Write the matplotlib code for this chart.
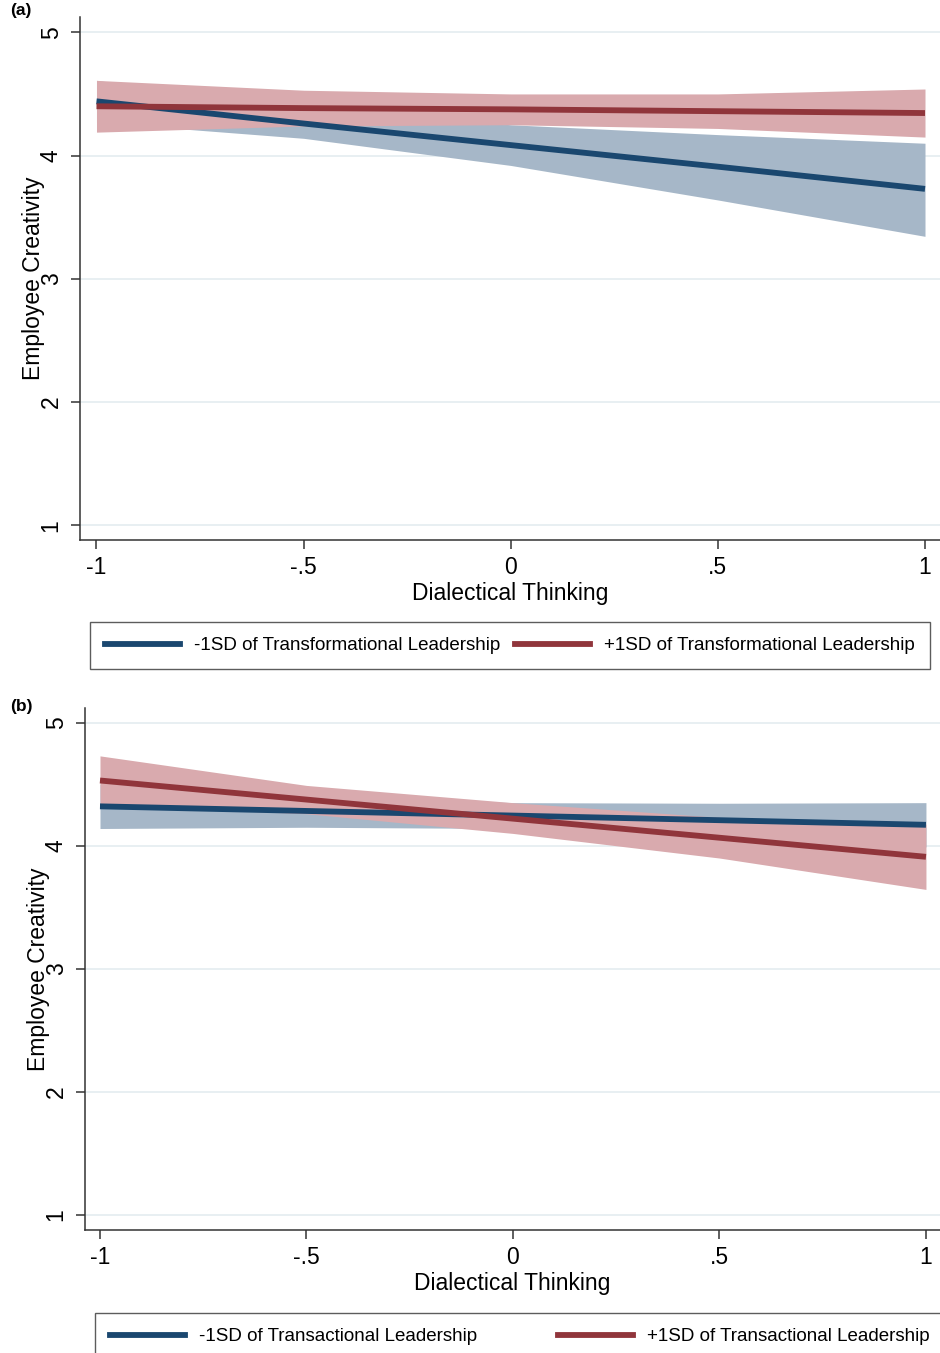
import matplotlib
matplotlib.use("Agg")
import matplotlib.pyplot as plt
from matplotlib.lines import Line2D

# dialectical thinking levels where margins were evaluated
x_vals = [-1, -0.5, 0, 0.5, 1]
x_ticks = [-1, -0.5, 0, 0.5, 1]
x_ticklabels = ["-1", "-.5", "0", ".5", "1"]
y_ticks = [1, 2, 3, 4, 5]

# (a) transformational leadership
a_low_fit = [4.44, 4.26, 4.085, 3.91, 3.73]
a_low_lo = [4.27, 4.14, 3.92, 3.64, 3.345]
a_low_hi = [4.61, 4.38, 4.25, 4.17, 4.10]
a_high_fit = [4.40, 4.385, 4.375, 4.36, 4.345]
a_high_lo = [4.19, 4.24, 4.25, 4.22, 4.15]
a_high_hi = [4.61, 4.53, 4.50, 4.50, 4.54]
a_labels = ["-1SD of Transformational Leadership", "+1SD of Transformational Leadership"]

# (b) transactional leadership
b_low_fit = [4.32, 4.2825, 4.245, 4.2075, 4.17]
b_low_lo = [4.14, 4.15, 4.14, 4.07, 3.99]
b_low_hi = [4.50, 4.41, 4.35, 4.345, 4.35]
b_high_fit = [4.53, 4.375, 4.22, 4.065, 3.91]
b_high_lo = [4.33, 4.26, 4.10, 3.90, 3.645]
b_high_hi = [4.73, 4.49, 4.35, 4.23, 4.175]
b_labels = ["-1SD of Transactional Leadership", "+1SD of Transactional Leadership"]

BLUE = "#1a476f"
RED = "#90353b"
BLUE_FILL = "#a6b7c8"
RED_FILL = "#d9aaae"
GRID = "#e6eef1"

plt.rcParams["font.family"] = ["Liberation Sans", "DejaVu Sans"]

W, H = 940, 1353
fig = plt.figure(figsize=(W / 100, H / 100), dpi=100)
fig.patch.set_facecolor("white")


def px_axes(left, top, right, bottom):
    return fig.add_axes([left / W, 1 - bottom / H, (right - left) / W, (bottom - top) / H])


def panel(ax, xlim, ylim, low, high):
    lo_fit, lo_lo, lo_hi = low
    hi_fit, hi_lo, hi_hi = high
    ax.fill_between(x_vals, lo_lo, lo_hi, color=BLUE_FILL, lw=0, zorder=2)
    ax.fill_between(x_vals, hi_lo, hi_hi, color=RED_FILL, lw=0, zorder=3)
    ax.plot(x_vals, lo_fit, color=BLUE, lw=4.2, solid_capstyle="butt", zorder=4)
    ax.plot(x_vals, hi_fit, color=RED, lw=4.2, solid_capstyle="butt", zorder=5)

    ax.set_xlim(*xlim)
    ax.set_ylim(*ylim)
    ax.set_xticks(x_ticks)
    ax.set_xticklabels(x_ticklabels)
    ax.set_yticks(y_ticks)
    ax.set_yticklabels([str(v) for v in y_ticks], rotation=90, va="center")
    ax.tick_params(axis="both", direction="out", length=6.5, width=1.1,
                   color="#333333", labelsize=16.5, pad=5)
    ax.tick_params(axis="y", pad=6)
    for side in ("top", "right"):
        ax.spines[side].set_visible(False)
    for side in ("left", "bottom"):
        ax.spines[side].set_color("#333333")
        ax.spines[side].set_linewidth(1.1)
    ax.grid(axis="y", color=GRID, lw=1.3, zorder=0)
    ax.set_axisbelow(True)
    ax.set_xlabel("Dialectical Thinking", fontsize=16.5)
    ax.set_ylabel("Employee Creativity", fontsize=16.5)
    ax.xaxis.set_label_coords(0.5, -0.081)
    ax.yaxis.set_label_coords(-0.041, 0.5)


def legend(labels, x0, top, x1, h):
    handles = [Line2D([], [], color=BLUE, lw=4.2), Line2D([], [], color=RED, lw=4.2)]
    leg = fig.legend(handles, labels, ncol=2, loc="upper left", mode="expand",
                     bbox_to_anchor=(x0 / W, 1 - (top + h) / H, (x1 - x0) / W, h / H),
                     fontsize=13.5, frameon=True, fancybox=False, edgecolor="#333333",
                     handlelength=4.0, handletextpad=0.75, borderpad=0.8,
                     borderaxespad=0)
    leg.get_frame().set_linewidth(1.0)


ax_a = px_axes(80, 17, 940, 540)
panel(ax_a, (-1.0398, 1.0362), (0.882, 5.124),
      (a_low_fit, a_low_lo, a_low_hi), (a_high_fit, a_high_lo, a_high_hi))
legend(a_labels, 90, 622, 930, 43)
fig.text(10 / W, 1 - 10 / H, "(a)", fontsize=12.5, fontweight="bold", va="center", ha="left")

ax_b = px_axes(85, 708, 940, 1230)
panel(ax_b, (-1.0363, 1.034), (0.878, 5.119),
      (b_low_fit, b_low_lo, b_low_hi), (b_high_fit, b_high_lo, b_high_hi))
legend(b_labels, 95, 1313, 945, 43)
fig.text(10 / W, 1 - 706 / H, "(b)", fontsize=12.5, fontweight="bold", va="center", ha="left")

fig.savefig("out.png", dpi=100, facecolor=fig.get_facecolor())
